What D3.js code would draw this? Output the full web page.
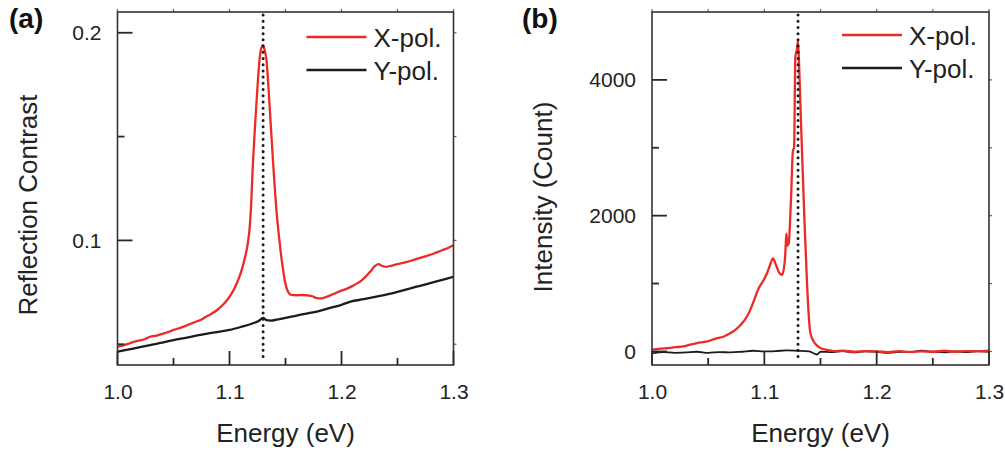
<!DOCTYPE html>
<html>
<head>
<meta charset="utf-8">
<script src="https://cdn.jsdelivr.net/npm/d3@7"></script>
<style>
html,body{margin:0;padding:0;background:#fff;}
svg{display:block;font-family:"Liberation Sans",Arial,Helvetica,sans-serif;}
</style>
</head>
<body>
<svg id="chart" width="1005" height="451"></svg>
<script>
// ---------- data ----------
const xTicksMajor = [1.0, 1.1, 1.2, 1.3];
const xTicksMinor = [1.05, 1.15, 1.25];
const yTicksA = [0.1, 0.2];
const yTicksAMinor = [0.05, 0.15];
const yTicksB = [0, 2000, 4000];
const yTicksBMinor = [1000, 3000];
const markerEnergy = 1.13;
const seriesNames = ["X-pol.", "Y-pol."];

// (a) reflection contrast, X-pol.
const energyAX = [1.000,1.006,1.012,1.018,1.024,1.029,1.035,1.040,1.045,1.050,1.056,1.062,1.068,1.074,1.079,1.084,1.089,1.093,1.097,1.101,1.104,1.107,1.110,1.113,1.116,1.118,1.119,1.121,1.123,1.125,1.127,1.129,1.130,1.131,1.133,1.136,1.139,1.142,1.145,1.147,1.151,1.155,1.160,1.165,1.170,1.174,1.178,1.182,1.186,1.190,1.195,1.200,1.205,1.210,1.214,1.218,1.222,1.226,1.230,1.233,1.236,1.240,1.245,1.250,1.256,1.262,1.268,1.274,1.280,1.286,1.292,1.296,1.300];
const reflX = [0.0488,0.0496,0.0507,0.0516,0.0524,0.0536,0.0542,0.0550,0.0558,0.0569,0.0579,0.0591,0.0604,0.0617,0.0632,0.0647,0.0665,0.0684,0.0707,0.0737,0.0765,0.0800,0.0842,0.0900,0.0975,0.1060,0.1140,0.1380,0.1570,0.1740,0.1880,0.1935,0.1940,0.1925,0.1870,0.1630,0.1370,0.1140,0.0980,0.0890,0.0770,0.0738,0.0736,0.0737,0.0735,0.0731,0.0722,0.0721,0.0727,0.0735,0.0747,0.0758,0.0768,0.0781,0.0793,0.0808,0.0828,0.0852,0.0877,0.0886,0.0878,0.0873,0.0879,0.0886,0.0893,0.0902,0.0912,0.0922,0.0932,0.0945,0.0957,0.0966,0.0977];

// (a) reflection contrast, Y-pol.
const energyAY = [1.000,1.015,1.029,1.040,1.050,1.062,1.074,1.087,1.100,1.110,1.121,1.126,1.130,1.133,1.137,1.142,1.148,1.160,1.170,1.178,1.190,1.200,1.208,1.220,1.230,1.238,1.250,1.260,1.267,1.280,1.290,1.300];
const reflY = [0.0464,0.0480,0.0496,0.0508,0.0520,0.0532,0.0545,0.0557,0.0569,0.0583,0.0601,0.0612,0.0627,0.0616,0.0614,0.0618,0.0625,0.0638,0.0649,0.0657,0.0675,0.0690,0.0705,0.0717,0.0728,0.0737,0.0752,0.0767,0.0777,0.0795,0.0810,0.0825];

// (b) PL intensity, X-pol.
const energyBX = [1.000,1.007,1.014,1.021,1.028,1.034,1.040,1.049,1.056,1.064,1.070,1.075,1.079,1.084,1.0875,1.091,1.095,1.099,1.1024,1.105,1.1077,1.110,1.1128,1.1158,1.1180,1.1187,1.1196,1.1205,1.1217,1.1237,1.1255,1.1265,1.1276,1.1290,1.1300,1.1310,1.1320,1.1335,1.1356,1.1380,1.1400,1.1410,1.1439,1.1470,1.1499,1.155,1.162,1.170,1.180,1.190,1.200,1.210,1.220,1.230,1.240,1.250,1.260,1.270,1.280,1.290,1.300];
const intX = [25,40,50,62,73,100,123,147,185,220,270,330,392,500,612,760,930,1040,1151,1270,1371,1290,1174,1126,1300,1445,1738,1560,1591,2227,2961,3000,4331,4450,4576,4200,3695,2961,1982,1004,420,270,147,85,50,25,5,10,-5,5,0,-10,5,-8,0,-5,10,-5,5,0,10];

// (b) PL intensity, Y-pol.
const energyBY = [1.000,1.010,1.020,1.030,1.040,1.050,1.060,1.070,1.080,1.090,1.100,1.110,1.120,1.130,1.140,1.147,1.150,1.160,1.170,1.180,1.190,1.200,1.210,1.220,1.230,1.240,1.250,1.260,1.270,1.280,1.290,1.300];
const intY = [-30,-10,-20,-15,-5,-20,-10,-15,-5,10,0,5,15,10,0,-45,-5,-10,5,-15,0,-5,-20,-5,-10,10,-5,-15,0,-10,5,-5];

// ---------- drawing ----------
const svg = d3.select("#chart");
const RED = "#ec2a26", BLACK = "#1c1c1c", FRAME = "#333";

function panel(cfg) {
  const g = svg.append("g");
  const x = d3.scaleLinear().domain([1.0, 1.3]).range([cfg.left, cfg.right]);
  const y = d3.scaleLinear().domain(cfg.yDomain).range([cfg.bottom, cfg.top]);

  const labelStyle = sel => {
    sel.select(".domain").remove();
    sel.selectAll(".tick line").remove();
    sel.selectAll(".tick text").attr("fill", "#222").style("font-size", "21px")
       .style("font-family", '"Liberation Sans",Arial,sans-serif');
  };
  g.append("g").attr("transform", `translate(0,${cfg.bottom})`)
    .call(d3.axisBottom(x).tickValues(xTicksMajor).tickSize(0).tickPadding(0).tickFormat(d3.format(".1f")))
    .call(labelStyle)
    .call(s => s.selectAll(".tick text").attr("y", 0).attr("dy", "1.6em"));
  g.append("g").attr("transform", `translate(${cfg.left},0)`)
    .call(d3.axisLeft(y).tickValues(cfg.yMajor).tickSize(0).tickPadding(16).tickFormat(cfg.yFormat))
    .call(labelStyle);

  // clip
  const clipId = "clip" + cfg.id;
  svg.append("clipPath").attr("id", clipId).append("rect")
    .attr("x", cfg.left).attr("y", cfg.top).attr("width", cfg.right - cfg.left).attr("height", cfg.bottom - cfg.top);

  const line = d3.line().x(d => x(d[0])).y(d => y(d[1])).curve(d3.curveMonotoneX);
  const plot = g.append("g").attr("clip-path", `url(#${clipId})`);
  plot.append("path").datum(d3.zip(cfg.eY, cfg.vY)).attr("d", line)
    .attr("fill", "none").attr("stroke", BLACK).attr("stroke-width", cfg.blackW).attr("stroke-linejoin", "round");
  plot.append("path").datum(d3.zip(cfg.eX, cfg.vX)).attr("d", line)
    .attr("fill", "none").attr("stroke", RED).attr("stroke-width", 2.3).attr("stroke-linejoin", "round");

  // dotted marker
  g.append("line").attr("x1", x(markerEnergy)).attr("x2", x(markerEnergy))
    .attr("y1", cfg.top + 3).attr("y2", cfg.bottom - 7)
    .attr("stroke", "#1a1a1a").attr("stroke-width", 3).attr("stroke-linecap", "round")
    .attr("stroke-dasharray", "0.01 6.2");

  // tick marks as filled rects
  const TW = 1.8;
  const tx = xTicksMajor.map(v => [v, 14]).concat(xTicksMinor.map(v => [v, 7]));
  g.selectAll(null).data(tx).join("rect")
    .attr("x", d => x(d[0]) - TW / 2).attr("y", d => cfg.bottom - d[1])
    .attr("width", TW).attr("height", d => d[1]).attr("fill", "#2a2a2a");
  const ty = cfg.yMajor.map(v => [v, 15]).concat(cfg.yMinor.map(v => [v, 7]));
  g.selectAll(null).data(ty).join("rect")
    .attr("x", cfg.left).attr("y", d => y(d[0]) - TW / 2)
    .attr("width", d => d[1]).attr("height", TW).attr("fill", "#2a2a2a");
  g.selectAll(null).data(xTicksMajor.concat(xTicksMinor)).join("rect")
    .attr("x", d => x(d) - 0.6).attr("y", cfg.top - 3).attr("width", 1.2).attr("height", 3).attr("fill", "#666");
  g.selectAll(null).data(cfg.yMajor.concat(cfg.yMinor)).join("rect")
    .attr("x", cfg.right).attr("y", d => y(d) - 0.6).attr("width", 3).attr("height", 1.2).attr("fill", "#666");

  // frame
  g.append("rect").attr("x", cfg.left).attr("y", cfg.top)
    .attr("width", cfg.right - cfg.left).attr("height", cfg.bottom - cfg.top)
    .attr("fill", "none").attr("stroke", FRAME).attr("stroke-width", 1.6);

  // legend
  const lx = cfg.right - 147;
  [[RED, cfg.legY], [BLACK, cfg.legY + 33]].forEach((d, i) => {
    g.append("line").attr("x1", lx).attr("x2", lx + 60).attr("y1", d[1]).attr("y2", d[1])
      .attr("stroke", d[0]).attr("stroke-width", 2.4);
    g.append("text").attr("x", lx + 67).attr("y", d[1] + 10).text(seriesNames[i])
      .attr("fill", "#222").style("font-size", "26px");
  });

  // axis titles
  g.append("text").attr("x", (cfg.left + cfg.right) / 2).attr("y", 442)
    .attr("text-anchor", "middle").attr("fill", "#222").style("font-size", "26px").text("Energy (eV)");
  g.append("text").attr("transform", `translate(${cfg.yTitleX},${cfg.yTitleY}) rotate(-90)`)
    .attr("text-anchor", "middle").attr("fill", "#222").style("font-size", "26px").text(cfg.yTitle);

  // panel label
  g.append("text").attr("x", cfg.labelX).attr("y", 28).attr("fill", "#111")
    .style("font-size", "28px").style("font-weight", "bold").text(cfg.label);
}

panel({
  id: "a", left: 117.5, right: 453.5, top: 12, bottom: 365,
  yDomain: [0.04, 0.21], yMajor: yTicksA, yMinor: yTicksAMinor, yFormat: d3.format(".1f"),
  eX: energyAX, vX: reflX, eY: energyAY, vY: reflY, blackW: 2.3,
  legY: 37, yTitle: "Reflection Contrast", yTitleX: 37, yTitleY: 205, labelX: 9, label: "(a)"
});
panel({
  id: "b", left: 652, right: 989, top: 12, bottom: 365,
  yDomain: [-200, 5000], yMajor: yTicksB, yMinor: yTicksBMinor, yFormat: d3.format("d"),
  eX: energyBX, vX: intX, eY: energyBY, vY: intY, blackW: 1.8,
  legY: 35, yTitle: "Intensity (Count)", yTitleX: 552, yTitleY: 197, labelX: 522, label: "(b)"
});
</script>
</body>
</html>
